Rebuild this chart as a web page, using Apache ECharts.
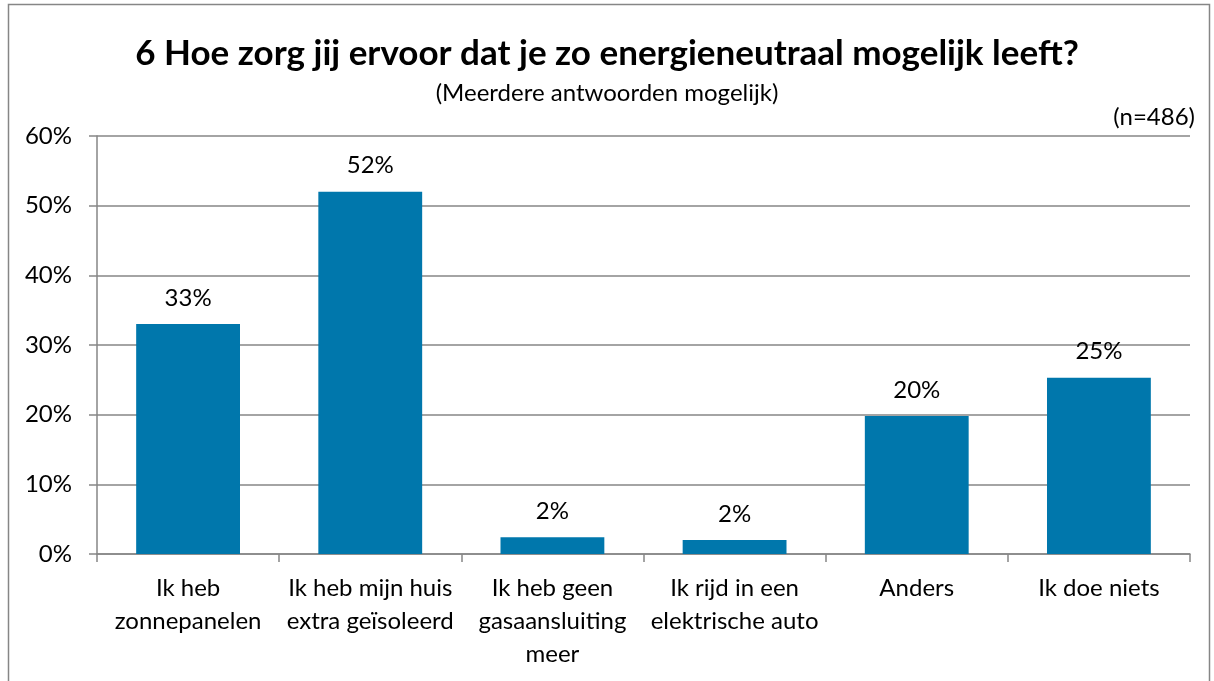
<!DOCTYPE html>
<html>
<head>
<meta charset="utf-8">
<script src="https://cdn.jsdelivr.net/npm/echarts@6/dist/echarts.min.js"></script>
<style>
  html, body { margin: 0; padding: 0; background: #fff; }
  #chart { width: 1214px; height: 681px; }
</style>
</head>
<body>
<div id="chart"></div>
<script>
const categories = [
    'Ik heb\nzonnepanelen',
    'Ik heb mijn huis\nextra geïsoleerd',
    'Ik heb geen\ngasaansluiting\nmeer',
    'Ik rijd in een\nelektrische auto',
    'Anders',
    'Ik doe niets'
]
const values = [33.0, 52.0, 2.4, 2.0, 19.8, 25.3]
const yTicks = [0, 10, 20, 30, 40, 50, 60]

const font = 'Lato, "Open Sans", sans-serif'
const chart = echarts.init(document.getElementById('chart'))

chart.setOption({
    animation: false,
    title: [
        {
            text: '6 Hoe zorg jij ervoor dat je zo energieneutraal mogelijk leeft?',
            left: 'center',
            top: 31,
            textStyle: { fontFamily: font, fontSize: 35, fontWeight: 'bold', color: '#000' }
        },
        {
            text: '(Meerdere antwoorden mogelijk)',
            left: 'center',
            top: 76,
            textStyle: { fontFamily: font, fontSize: 24, fontWeight: 'normal', color: '#000' }
        },
        {
            text: '(n=486)',
            right: 14,
            top: 100,
            textStyle: { fontFamily: font, fontSize: 24, fontWeight: 'normal', color: '#000' }
        }
    ],
    graphic: [{
        type: 'rect',
        shape: { x: 8.5, y: 4.5, width: 1201, height: 700 },
        style: { fill: 'none', stroke: '#868686', lineWidth: 1.5 },
        silent: true
    }],
    grid: { left: 97, right: 24, top: 136, bottom: 127 },
    xAxis: {
        type: 'category',
        data: categories,
        axisLine: { lineStyle: { color: '#868686', width: 1.5 } },
        axisTick: { show: true, length: 8, lineStyle: { color: '#868686', width: 1.5 } },
        axisLabel: {
            interval: 0,
            margin: 18,
            fontFamily: font,
            fontSize: 24,
            lineHeight: 33,
            color: '#000'
        }
    },
    yAxis: {
        type: 'value',
        min: yTicks[0],
        max: yTicks[yTicks.length - 1],
        interval: 10,
        axisLine: { show: true, lineStyle: { color: '#868686', width: 1.5 } },
        axisTick: { show: true, length: 8, inside: false, lineStyle: { color: '#868686', width: 1.5 } },
        splitLine: { lineStyle: { color: '#868686', width: 1.5 } },
        axisLabel: {
            margin: 25,
            fontFamily: font,
            fontSize: 24,
            color: '#000',
            formatter: v => v + '%'
        }
    },
    series: [{
        type: 'bar',
        data: values,
        barWidth: '57%',
        itemStyle: { color: '#0077AC' },
        label: {
            show: true,
            position: 'top',
            distance: 14,
            fontFamily: font,
            fontSize: 24,
            color: '#000',
            formatter: p => Math.round(p.value) + '%'
        }
    }]
})
</script>
</body>
</html>
